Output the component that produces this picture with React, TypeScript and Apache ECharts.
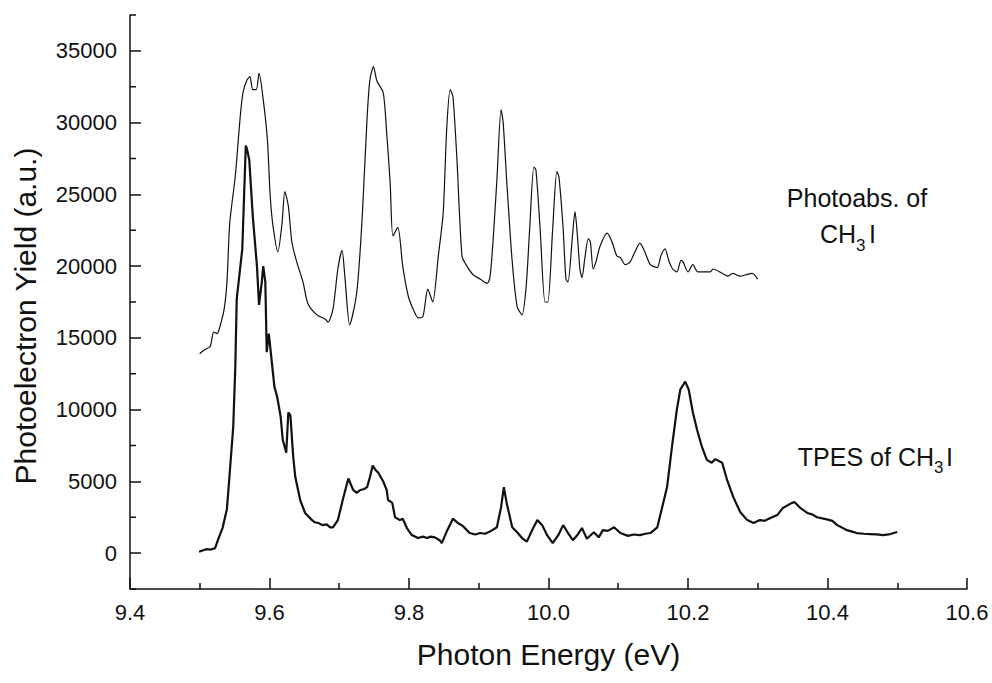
import React, { useEffect, useRef } from "react";
import * as echarts from "echarts";

const photoabsEnergy = [
  9.5, 9.508, 9.515, 9.52, 9.525, 9.529, 9.535, 9.539, 9.543, 9.551, 9.558, 9.562, 9.568, 9.572, 9.576,
  9.581, 9.585, 9.591, 9.597, 9.601, 9.605, 9.612, 9.618, 9.622, 9.627, 9.632, 9.639, 9.648, 9.655,
  9.668, 9.68, 9.684, 9.691, 9.698, 9.704, 9.708, 9.715, 9.723, 9.727, 9.733, 9.74, 9.744, 9.749,
  9.754, 9.763, 9.768, 9.773, 9.777, 9.784, 9.791, 9.799, 9.806, 9.813, 9.82, 9.827, 9.834, 9.842,
  9.849, 9.854, 9.859, 9.863, 9.869, 9.876, 9.883, 9.892, 9.902, 9.912, 9.916, 9.92, 9.926, 9.932,
  9.935, 9.94, 9.948, 9.955, 9.962, 9.968, 9.973, 9.979, 9.982, 9.988, 9.995, 9.999, 10.006, 10.012,
  10.015, 10.021, 10.025, 10.028, 10.034, 10.038, 10.041, 10.045, 10.048, 10.052, 10.057, 10.06,
  10.064, 10.068, 10.074, 10.084, 10.091, 10.098, 10.103, 10.11, 10.117, 10.124, 10.131, 10.138,
  10.146, 10.156, 10.161, 10.167, 10.173, 10.178, 10.184, 10.19, 10.193, 10.2, 10.207, 10.214,
  10.222, 10.232, 10.236, 10.249, 10.257, 10.264, 10.275, 10.283, 10.292, 10.3,
];
const photoabsYield = [
  13900, 14200, 14400, 15400, 15300, 15800, 17000, 18900, 23000, 26300, 30400, 32100, 33000, 33200, 32300,
  32300, 33450, 31600, 28800, 24900, 22800, 21000, 23000, 25200, 24200, 21700, 20300, 18900, 17400,
  16600, 16300, 16100, 17000, 19800, 21100, 19300, 15900, 17500, 19100, 23500, 30400, 33000, 33900,
  32900, 32100, 29300, 25800, 22100, 22700, 20000, 17900, 17000, 16400, 16500, 18400, 17500, 20700,
  23700, 29500, 32300, 31800, 27200, 20700, 20000, 19400, 19100, 18800, 19200, 21400, 26000, 30900,
  30000, 26000, 20300, 17200, 16600, 18600, 22600, 26900, 26700, 22600, 17500, 17500, 22600, 26600,
  26200, 22600, 19100, 18900, 21900, 23800, 22400, 19800, 19200, 20500, 21900, 21700,
  19800, 20300, 21400, 22300, 21700, 20700, 20600, 20100, 20300, 21000, 21600, 21000,
  20100, 19900, 20700, 21200, 20300, 19800, 19600, 20400, 20300, 19600, 20100, 19600,
  19600, 19600, 19800, 19500, 19300, 19500, 19300, 19400, 19500, 19100,
];

const tpesEnergy = [
  9.499, 9.505, 9.51, 9.516, 9.522, 9.526, 9.533, 9.539, 9.543, 9.548, 9.551, 9.553, 9.561, 9.566, 9.568,
  9.571, 9.576, 9.582, 9.585, 9.589, 9.591, 9.594, 9.596, 9.599, 9.604, 9.607, 9.611, 9.616, 9.619,
  9.624, 9.627, 9.63, 9.634, 9.637, 9.644, 9.651, 9.661, 9.665, 9.67, 9.676, 9.682, 9.687, 9.691, 9.698,
  9.705, 9.713, 9.72, 9.725, 9.73, 9.735, 9.74, 9.744, 9.748, 9.752, 9.756, 9.763, 9.768, 9.77, 9.776,
  9.78, 9.787, 9.791, 9.797, 9.804, 9.813, 9.82, 9.826, 9.831, 9.837, 9.844, 9.847, 9.854, 9.863, 9.87,
  9.877, 9.887, 9.895, 9.902, 9.909, 9.916, 9.926, 9.932, 9.936, 9.94, 9.948, 9.956, 9.962, 9.969,
  9.978, 9.984, 9.991, 9.998, 10.006, 10.014, 10.021, 10.028, 10.035, 10.042, 10.048, 10.055, 10.065,
  10.072, 10.078, 10.085, 10.094, 10.103, 10.114, 10.122, 10.131, 10.139, 10.146, 10.156, 10.163,
  10.17, 10.177, 10.184, 10.189, 10.196, 10.201, 10.207, 10.213, 10.22, 10.227, 10.234, 10.239,
  10.249, 10.256, 10.265, 10.275, 10.285, 10.294, 10.303, 10.31, 10.318, 10.328, 10.336, 10.349,
  10.353, 10.361, 10.371, 10.378, 10.385, 10.399, 10.407, 10.414, 10.428, 10.435, 10.442, 10.452,
  10.461, 10.47, 10.48, 10.49, 10.5,
];
const tpesYield = [
  100, 200, 280, 250, 350, 900, 1800, 3100, 5600, 8800, 13000, 17700, 21200, 28400, 28100,
  27400, 23500, 20000, 17300, 18900, 20000, 18900, 14000, 15300, 13000, 11600, 10900, 9500, 7900,
  7000, 9800, 9600, 6700, 5300, 3700, 2800, 2300, 2150, 2100, 1950, 2000, 1800, 1800, 2300,
  3700, 5200, 4400, 4200, 4400, 4450, 4600, 5300, 6100, 5800, 5600, 5000, 4400, 3700, 3500,
  2500, 2300, 2400, 1750, 1260, 1050, 1150, 1050, 1150, 1100, 900, 700, 1500, 2400, 2100,
  1900, 1400, 1300, 1400, 1350, 1500, 1800, 3200, 4600, 3500, 1800, 1400, 1050, 800,
  1750, 2300, 1950, 1250, 700, 1250, 1950, 1400, 900, 1300, 1750, 1000, 1450,
  1100, 1600, 1550, 1800, 1400, 1200, 1300, 1250, 1350, 1400, 1800, 3200,
  4600, 7400, 10000, 11400, 11950, 11400, 9800, 8600, 7400, 6500, 6300, 6550,
  6300, 5100, 3900, 2850, 2300, 2100, 2300, 2250, 2450, 2650, 3150, 3500,
  3550, 3150, 2800, 2700, 2500, 2350, 2250, 1950, 1600, 1500, 1400, 1350,
  1330, 1300, 1260, 1330, 1470,
];

const yMajorTicks = [0, 5000, 10000, 15000, 20000, 25000, 30000, 35000];
const yMinorTicks = [-2500, 2500, 7500, 12500, 17500, 22500, 27500, 32500, 37500];

const FONT = '"Liberation Sans", Arial, Helvetica, sans-serif';
const INK = "#111111";

function txt(text: string, x: number, y: number, size: number, align: string, rotation = 0) {
  return {
    type: "text",
    x,
    y,
    rotation,
    silent: true,
    style: {
      text,
      fontSize: size,
      fontFamily: FONT,
      fill: INK,
      align,
      textAlign: align,
      verticalAlign: "middle",
      textVerticalAlign: "middle",
    },
  };
}

function buildOption() {
  const photoabs = photoabsEnergy.map((e, i) => [e, photoabsYield[i]]);
  const tpes = tpesEnergy.map((e, i) => [e, tpesYield[i]]);
  const minorTickData = yMinorTicks.map((v) => [9.4, v]);
  return {
    animation: false,
    grid: { left: 130, right: 25, top: 15, bottom: 94, containLabel: false },
    xAxis: {
      type: "value",
      min: 9.4,
      max: 10.6,
      interval: 0.2,
      name: "Photon Energy (eV)",
      nameLocation: "middle",
      nameGap: 50,
      nameTextStyle: { fontSize: 30, fontFamily: FONT, color: INK },
      axisLine: { show: true, onZero: false, lineStyle: { color: INK, width: 1.5 } },
      axisTick: { show: true, inside: true, length: 11, lineStyle: { color: INK, width: 1.5 } },
      minorTick: { show: true, splitNumber: 2, length: 6, lineStyle: { color: INK, width: 1.5 } },
      axisLabel: {
        fontSize: 22,
        fontFamily: FONT,
        color: INK,
        margin: 12,
        formatter: (x: number) => x.toFixed(1),
      },
      splitLine: { show: false },
    },
    yAxis: {
      type: "value",
      min: -2500,
      max: 37500,
      axisLine: { show: true, onZero: false, lineStyle: { color: INK, width: 1.5 } },
      axisTick: {
        show: true,
        inside: true,
        length: 11,
        customValues: yMajorTicks,
        lineStyle: { color: INK, width: 1.5 },
      },
      axisLabel: {
        customValues: yMajorTicks,
        fontSize: 22,
        fontFamily: FONT,
        color: INK,
        margin: 13,
        formatter: (x: number) => String(x),
      },
      splitLine: { show: false },
    },
    series: [
      {
        type: "line",
        data: photoabs,
        showSymbol: false,
        symbol: "none",
        smooth: 0.25,
        lineStyle: { color: INK, width: 1.2 },
      },
      {
        type: "line",
        data: tpes,
        showSymbol: false,
        symbol: "none",
        lineStyle: { color: INK, width: 2.2 },
      },
      {
        type: "custom",
        silent: true,
        clip: false,
        data: minorTickData,
        renderItem: (_p: any, api: any) => {
          const p = api.coord([api.value(0), api.value(1)]);
          return {
            type: "line",
            shape: { x1: p[0], y1: p[1], x2: p[0] + 6, y2: p[1] },
            style: { stroke: INK, lineWidth: 1.5 },
          };
        },
      },
    ],
    graphic: [
      txt("Photoelectron Yield (a.u.)", 25, 316, 30, "center", Math.PI / 2),
      txt("Photoabs. of", 857, 198, 25, "center"),
      txt("CH", 856, 234, 25, "right"),
      txt("3", 856, 245, 17, "left"),
      txt("I", 869, 234, 25, "left"),
      txt("TPES of CH", 934, 457, 25, "right"),
      txt("3", 934, 467, 17, "left"),
      txt("I", 946, 457, 25, "left"),
    ],
  };
}

function Chart() {
  const ref = useRef<HTMLDivElement>(null);
  useEffect(() => {
    if (!ref.current) return;
    const chart = echarts.init(ref.current, null, { renderer: "svg" });
    chart.setOption(buildOption());
    return () => chart.dispose();
  }, []);
  return <div ref={ref} style={{ position: "absolute", left: 0, top: 0, width: 992, height: 683 }} />;
}

export default function App() {
  useEffect(() => {
    document.body.style.margin = "0";
  }, []);
  return (
    <div style={{ position: "relative", width: 992, height: 683, background: "#ffffff" }}>
      <Chart />
    </div>
  );
}
